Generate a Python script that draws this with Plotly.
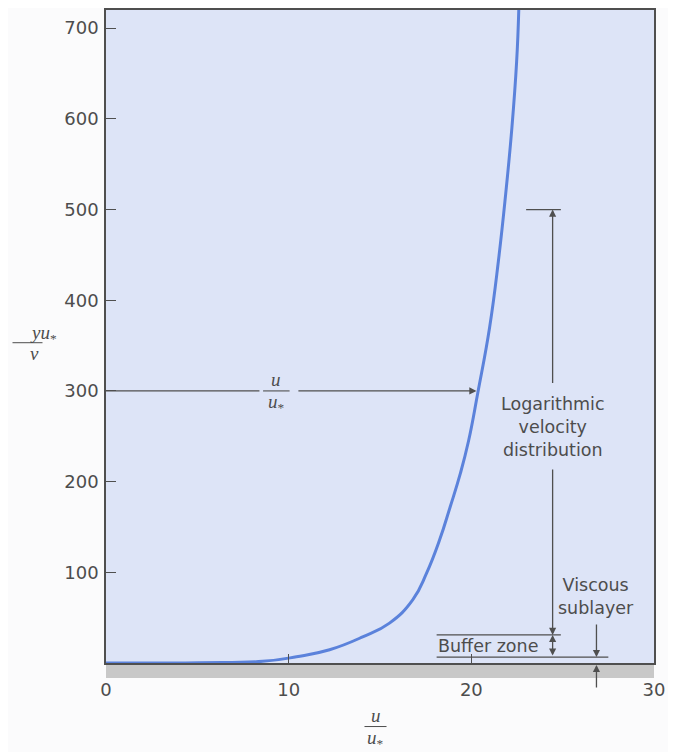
import plotly.graph_objects as go

# Velocity profile (u/u* vs yu*/nu)
u_plus = [0, 5.1, 8.57, 10.43, 12.24, 14.05, 15.52, 16.79, 17.55, 18.26, 18.84,
          19.40, 19.85, 20.36, 21.0, 21.48, 21.88, 22.22, 22.48, 22.6]
y_plus = [0, 0.3, 1.8, 6.9, 14.6, 28.8, 44, 69.6, 99, 135.5, 172,
          209, 245, 298.6, 370, 443, 517, 590, 663, 722]

x_ticks = [0, 10, 20, 30]
y_ticks = [100, 200, 300, 400, 500, 600, 700]

# Region boundaries (yu*/nu)
log_top = 500
buffer_top = 31
sublayer_top = 6.5
arrow_level = 300

LINE = "#4f4f4f"
TXT = "#4d4d4d"
SANS = "DejaVu Sans"
SERIF = "Liberation Serif"

fig = go.Figure()
fig.add_trace(go.Scatter(x=u_plus, y=y_plus, mode="lines",
                         line=dict(color="#5b82db", width=3, shape="spline", smoothing=1.3),
                         hoverinfo="skip"))

shapes = [
    dict(type="rect", xref="paper", yref="paper", x0=0, x1=1, y0=-0.023, y1=0,
         fillcolor="#c8c8c8", line=dict(width=0), layer="below"),
    dict(type="line", xref="x", yref="y", x0=0, x1=8.4, y0=arrow_level, y1=arrow_level,
         line=dict(color=LINE, width=1.3)),
    dict(type="line", xref="x", yref="y", x0=8.6, x1=10.05, y0=arrow_level, y1=arrow_level,
         line=dict(color=LINE, width=1.1)),
    dict(type="line", xref="x", yref="y", x0=23.0, x1=24.9, y0=log_top, y1=log_top,
         line=dict(color=LINE, width=1.3)),
    dict(type="line", xref="x", yref="y", x0=18.1, x1=24.9, y0=buffer_top, y1=buffer_top,
         line=dict(color=LINE, width=1.3)),
    dict(type="line", xref="x", yref="y", x0=18.1, x1=27.5, y0=sublayer_top, y1=sublayer_top,
         line=dict(color=LINE, width=1.3)),
    # y-axis title fraction bar
    dict(type="line", xref="paper", yref="paper", x0=-0.1706, x1=-0.1159, y0=0.4905, y1=0.4905,
         line=dict(color=TXT, width=1)),
    # x-axis title fraction bar
    dict(type="line", xref="paper", yref="paper", x0=0.4717, x1=0.5119, y0=-0.0973, y1=-0.0973,
         line=dict(color=TXT, width=1)),
]

def arrow(x, y, ax, ay, heads="end"):
    return dict(x=x, y=y, ax=ax, ay=ay, xref="x", yref="y", axref="x", ayref="y",
                text="", showarrow=True, arrowhead=2, arrowsize=1.1, arrowwidth=1.3,
                arrowcolor=LINE, arrowside=heads, startarrowhead=2, startarrowsize=1.1)

def frac_part(x, y, text, shift, xref="x", yref="y"):
    return dict(x=x, y=y, xref=xref, yref=yref, showarrow=False, text=text,
                yanchor="middle", yshift=shift,
                font=dict(family=SERIF, size=19, color=TXT))

annotations = [
    arrow(20.28, arrow_level, 10.45, arrow_level),
    arrow(24.45, log_top, 24.45, 307),
    arrow(24.45, buffer_top, 24.45, 215),
    arrow(24.45, buffer_top, 24.45, sublayer_top, heads="end+start"),
    arrow(26.85, sublayer_top, 26.85, 44),
    dict(x=26.85, y=-0.003, xref="x", yref="paper", axref="pixel", ayref="pixel", ax=0, ay=24,
         text="", showarrow=True, arrowhead=2, arrowsize=1.1, arrowwidth=1.3, arrowcolor=LINE),
    dict(x=24.45, y=260, xref="x", yref="y", showarrow=False,
         text="Logarithmic<br>velocity<br>distribution",
         font=dict(family=SANS, size=17.5, color=TXT), align="center"),
    dict(x=26.85, y=73, xref="x", yref="y", showarrow=False,
         text="Viscous<br>sublayer",
         font=dict(family=SANS, size=17.5, color=TXT), align="center"),
    dict(x=20.9, y=18.5, xref="x", yref="y", showarrow=False, text="Buffer zone",
         font=dict(family=SANS, size=17.5, color=TXT)),
    # fraction on the horizontal arrow
    frac_part(9.32, arrow_level, "<i>u</i>", 11),
    frac_part(9.32, arrow_level, "<i>u</i><sub>*</sub>", -12),
    # y-axis title
    frac_part(-0.1432, 0.4905, "<i>yu</i><sub>*</sub>", 9, "paper", "paper"),
    frac_part(-0.1432, 0.4905, "<i>v</i>", -11, "paper", "paper"),
    # x-axis title
    frac_part(0.4918, -0.0973, "<i>u</i>", 11, "paper", "paper"),
    frac_part(0.4918, -0.0973, "<i>u</i><sub>*</sub>", -12, "paper", "paper"),
]

fig.update_layout(
    width=668, height=744,
    margin=dict(l=98, r=22, t=0, b=89),
    plot_bgcolor="#dde4f7", paper_bgcolor="#fbfbfc",
    showlegend=False,
    shapes=shapes, annotations=annotations,
    xaxis=dict(range=[0, 30], tickvals=x_ticks, ticktext=[str(v) for v in x_ticks],
               ticks="inside", ticklen=9, tickwidth=1.2, tickcolor=LINE,
               showline=True, mirror=True, linecolor=LINE, linewidth=1.6,
               showgrid=False, zeroline=False, ticklabelstandoff=10,
               tickfont=dict(family=SANS, size=18, color=TXT), fixedrange=True),
    yaxis=dict(range=[0, 720], tickvals=y_ticks, ticktext=[str(v) for v in y_ticks],
               ticks="inside", ticklen=10, tickwidth=1.2, tickcolor=LINE,
               showline=True, mirror=True, linecolor=LINE, linewidth=1.6,
               showgrid=False, zeroline=False, ticklabelstandoff=2,
               tickfont=dict(family=SANS, size=18, color=TXT), fixedrange=True),
)

fig.write_html("out.html")
